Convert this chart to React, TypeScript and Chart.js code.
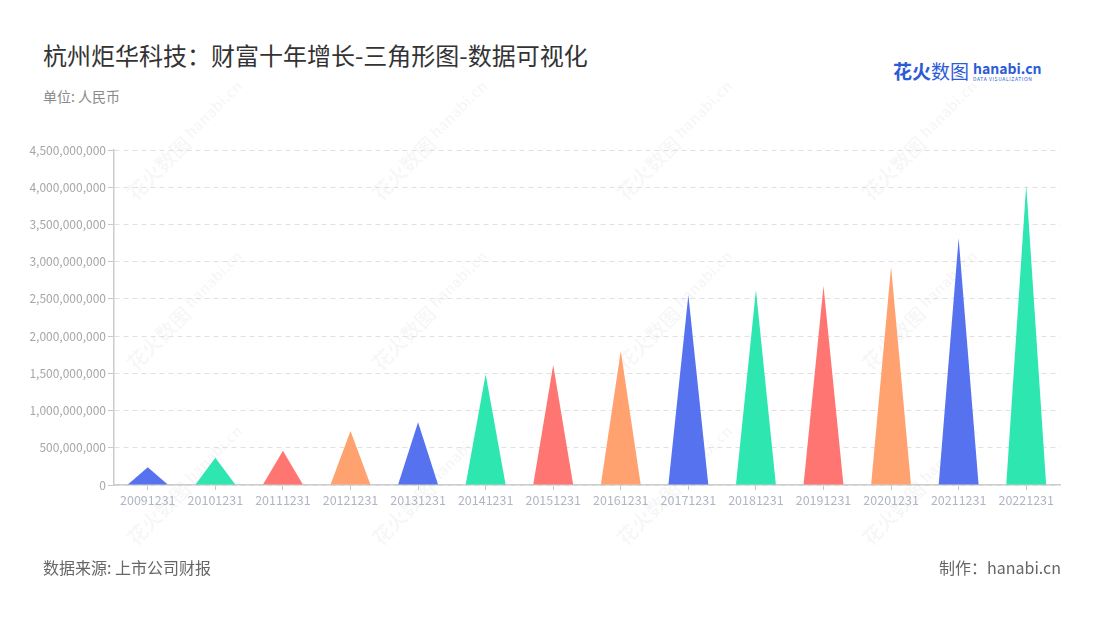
import React, { useEffect, useRef } from "react";
import { Chart, registerables } from "chart.js";

Chart.register(...registerables);

const categories = [
  "20091231", "20101231", "20111231", "20121231", "20131231", "20141231", "20151231",
  "20161231", "20171231", "20181231", "20191231", "20201231", "20211231", "20221231",
];
const wealthValues = [
  238e6, 367e6, 461e6, 725e6, 842e6, 1487e6, 1612e6,
  1800e6, 2552e6, 2620e6, 2673e6, 2933e6, 3314e6, 4030e6,
];
const palette = ["#5672ee", "#2ee6b0", "#ff7571", "#ffa270"];
const yMax = 4.5e9;
const yStep = 5e8;

const titleText = "杭州炬华科技：财富十年增长-三角形图-数据可视化";
const unitText = "单位: 人民币";
const sourceText = "数据来源: 上市公司财报";
const makerText = "制作：hanabi.cn";

const FONT = "'Noto Sans CJK SC', 'Noto Sans', sans-serif";

const trianglePlugin = {
  id: "triangles",
  beforeDatasetDraw(chart: any, args: any) {
    const meta = args.meta;
    const ctx = chart.ctx;
    ctx.save();
    meta.data.forEach((el: any, i: number) => {
      const { x, y, base, width } = el.getProps(["x", "y", "base", "width"], true);
      ctx.beginPath();
      ctx.moveTo(x - width / 2, base);
      ctx.lineTo(x, y);
      ctx.lineTo(x + width / 2, base);
      ctx.closePath();
      ctx.fillStyle = palette[i % palette.length];
      ctx.fill();
    });
    ctx.restore();
    return false;
  },
};

const wmCols = [185, 430, 675, 920];
const wmRows = [140, 310, 485];

function Watermark({ cx, cy }: { cx: number; cy: number }) {
  return (
    <div
      style={{
        position: "absolute",
        left: cx - 90,
        top: cy - 14,
        width: 180,
        height: 28,
        transform: "rotate(-45deg)",
        color: "rgba(0,0,0,0.045)",
        fontFamily: FONT,
        whiteSpace: "nowrap",
        display: "flex",
        alignItems: "center",
        justifyContent: "center",
        gap: 4,
      }}
    >
      <span style={{ fontSize: 20, fontWeight: 700 }}>花火数图</span>
      <span style={{ display: "inline-flex", flexDirection: "column", lineHeight: 1 }}>
        <span style={{ fontSize: 15, fontWeight: 700 }}>hanabi.cn</span>
        <span style={{ fontSize: 5, letterSpacing: 0.5 }}>DATA VISUALIZATION</span>
      </span>
    </div>
  );
}

export default function App() {
  const ref = useRef<HTMLCanvasElement | null>(null);

  useEffect(() => {
    if (!ref.current) return;
    const chart = new Chart(ref.current, {
      type: "bar",
      data: {
        labels: categories,
        datasets: [
          {
            data: wealthValues,
            backgroundColor: categories.map((_, i) => palette[i % palette.length]),
            barPercentage: 0.59,
            categoryPercentage: 1,
          },
        ],
      },
      plugins: [trianglePlugin],
      options: {
        responsive: false,
        animation: false,
        layout: { padding: { left: 0, right: 40, top: 150, bottom: 100 } },
        plugins: {
          legend: { display: false },
          tooltip: { enabled: false },
        },
        scales: {
          x: {
            afterFit: (s: any) => {
              s.height = 35;
            },
            grid: {
              display: true,
              drawOnChartArea: false,
              drawTicks: true,
              offset: false,
              tickLength: 5,
              tickColor: "#c8c8c8",
              tickWidth: 1,
            },
            border: { display: true, color: "#cccccc", width: 1.5 },
            ticks: {
              color: "#b0b5c2",
              font: { family: FONT, size: 12.5 },
              padding: 3,
              maxRotation: 0,
              autoSkip: false,
            },
          },
          y: {
            min: 0,
            max: yMax,
            afterFit: (s: any) => {
              s.width = 114;
            },
            grid: {
              color: "#e0e0e0",
              lineWidth: 1,
              drawTicks: true,
              tickLength: 6,
              tickColor: "#c8c8c8",
              tickBorderDash: [],
            },
            border: { display: true, color: "#cccccc", width: 1.5, dash: [5, 4] },
            ticks: {
              stepSize: yStep,
              color: "#a6a6a6",
              font: { family: FONT, size: 12 },
              padding: 2,
              callback: (v: any) => Number(v).toLocaleString("en-US"),
            },
          },
        },
      },
    } as any);
    return () => chart.destroy();
  }, []);

  return (
    <div
      style={{
        position: "absolute",
        left: 0,
        top: 0,
        width: 1100,
        height: 620,
        background: "#fff",
        fontFamily: FONT,
        overflow: "hidden",
      }}
    >
      {wmRows.map((cy) =>
        wmCols.map((cx) => <Watermark key={`${cx}-${cy}`} cx={cx} cy={cy} />)
      )}
      <div
        style={{
          position: "absolute",
          left: 43,
          top: 40,
          fontSize: 24,
          lineHeight: "30px",
          color: "#333",
          whiteSpace: "nowrap",
        }}
      >
        {titleText}
      </div>
      <div
        style={{
          position: "absolute",
          left: 43,
          top: 86,
          fontSize: 14,
          lineHeight: "20px",
          color: "#8a8a8a",
        }}
      >
        {unitText}
      </div>
      <div
        style={{
          position: "absolute",
          left: 893,
          top: 60,
          display: "flex",
          alignItems: "center",
          gap: 4,
          whiteSpace: "nowrap",
        }}
      >
        <span style={{ fontSize: 19, fontWeight: 700, color: "#2c5bd6", lineHeight: "22px" }}>
          花火<span style={{ fontWeight: 400 }}>数图</span>
        </span>
        <span style={{ display: "inline-flex", flexDirection: "column", lineHeight: 1 }}>
          <span style={{ fontSize: 14, fontWeight: 700, color: "#2c5bd6" }}>hanabi.cn</span>
          <span style={{ fontSize: 5, color: "#2c5bd6", letterSpacing: 0.6, marginTop: 1 }}>
            DATA VISUALIZATION
          </span>
        </span>
      </div>
      <canvas
        ref={ref}
        width={1100}
        height={620}
        style={{ position: "absolute", left: 0, top: 0, width: 1100, height: 620 }}
      />
      <div
        style={{
          position: "absolute",
          left: 43,
          top: 556,
          fontSize: 16,
          lineHeight: "22px",
          color: "#666",
        }}
      >
        {sourceText}
      </div>
      <div
        style={{
          position: "absolute",
          right: 39,
          top: 556,
          fontSize: 16,
          lineHeight: "22px",
          color: "#666",
        }}
      >
        {makerText}
      </div>
    </div>
  );
}
